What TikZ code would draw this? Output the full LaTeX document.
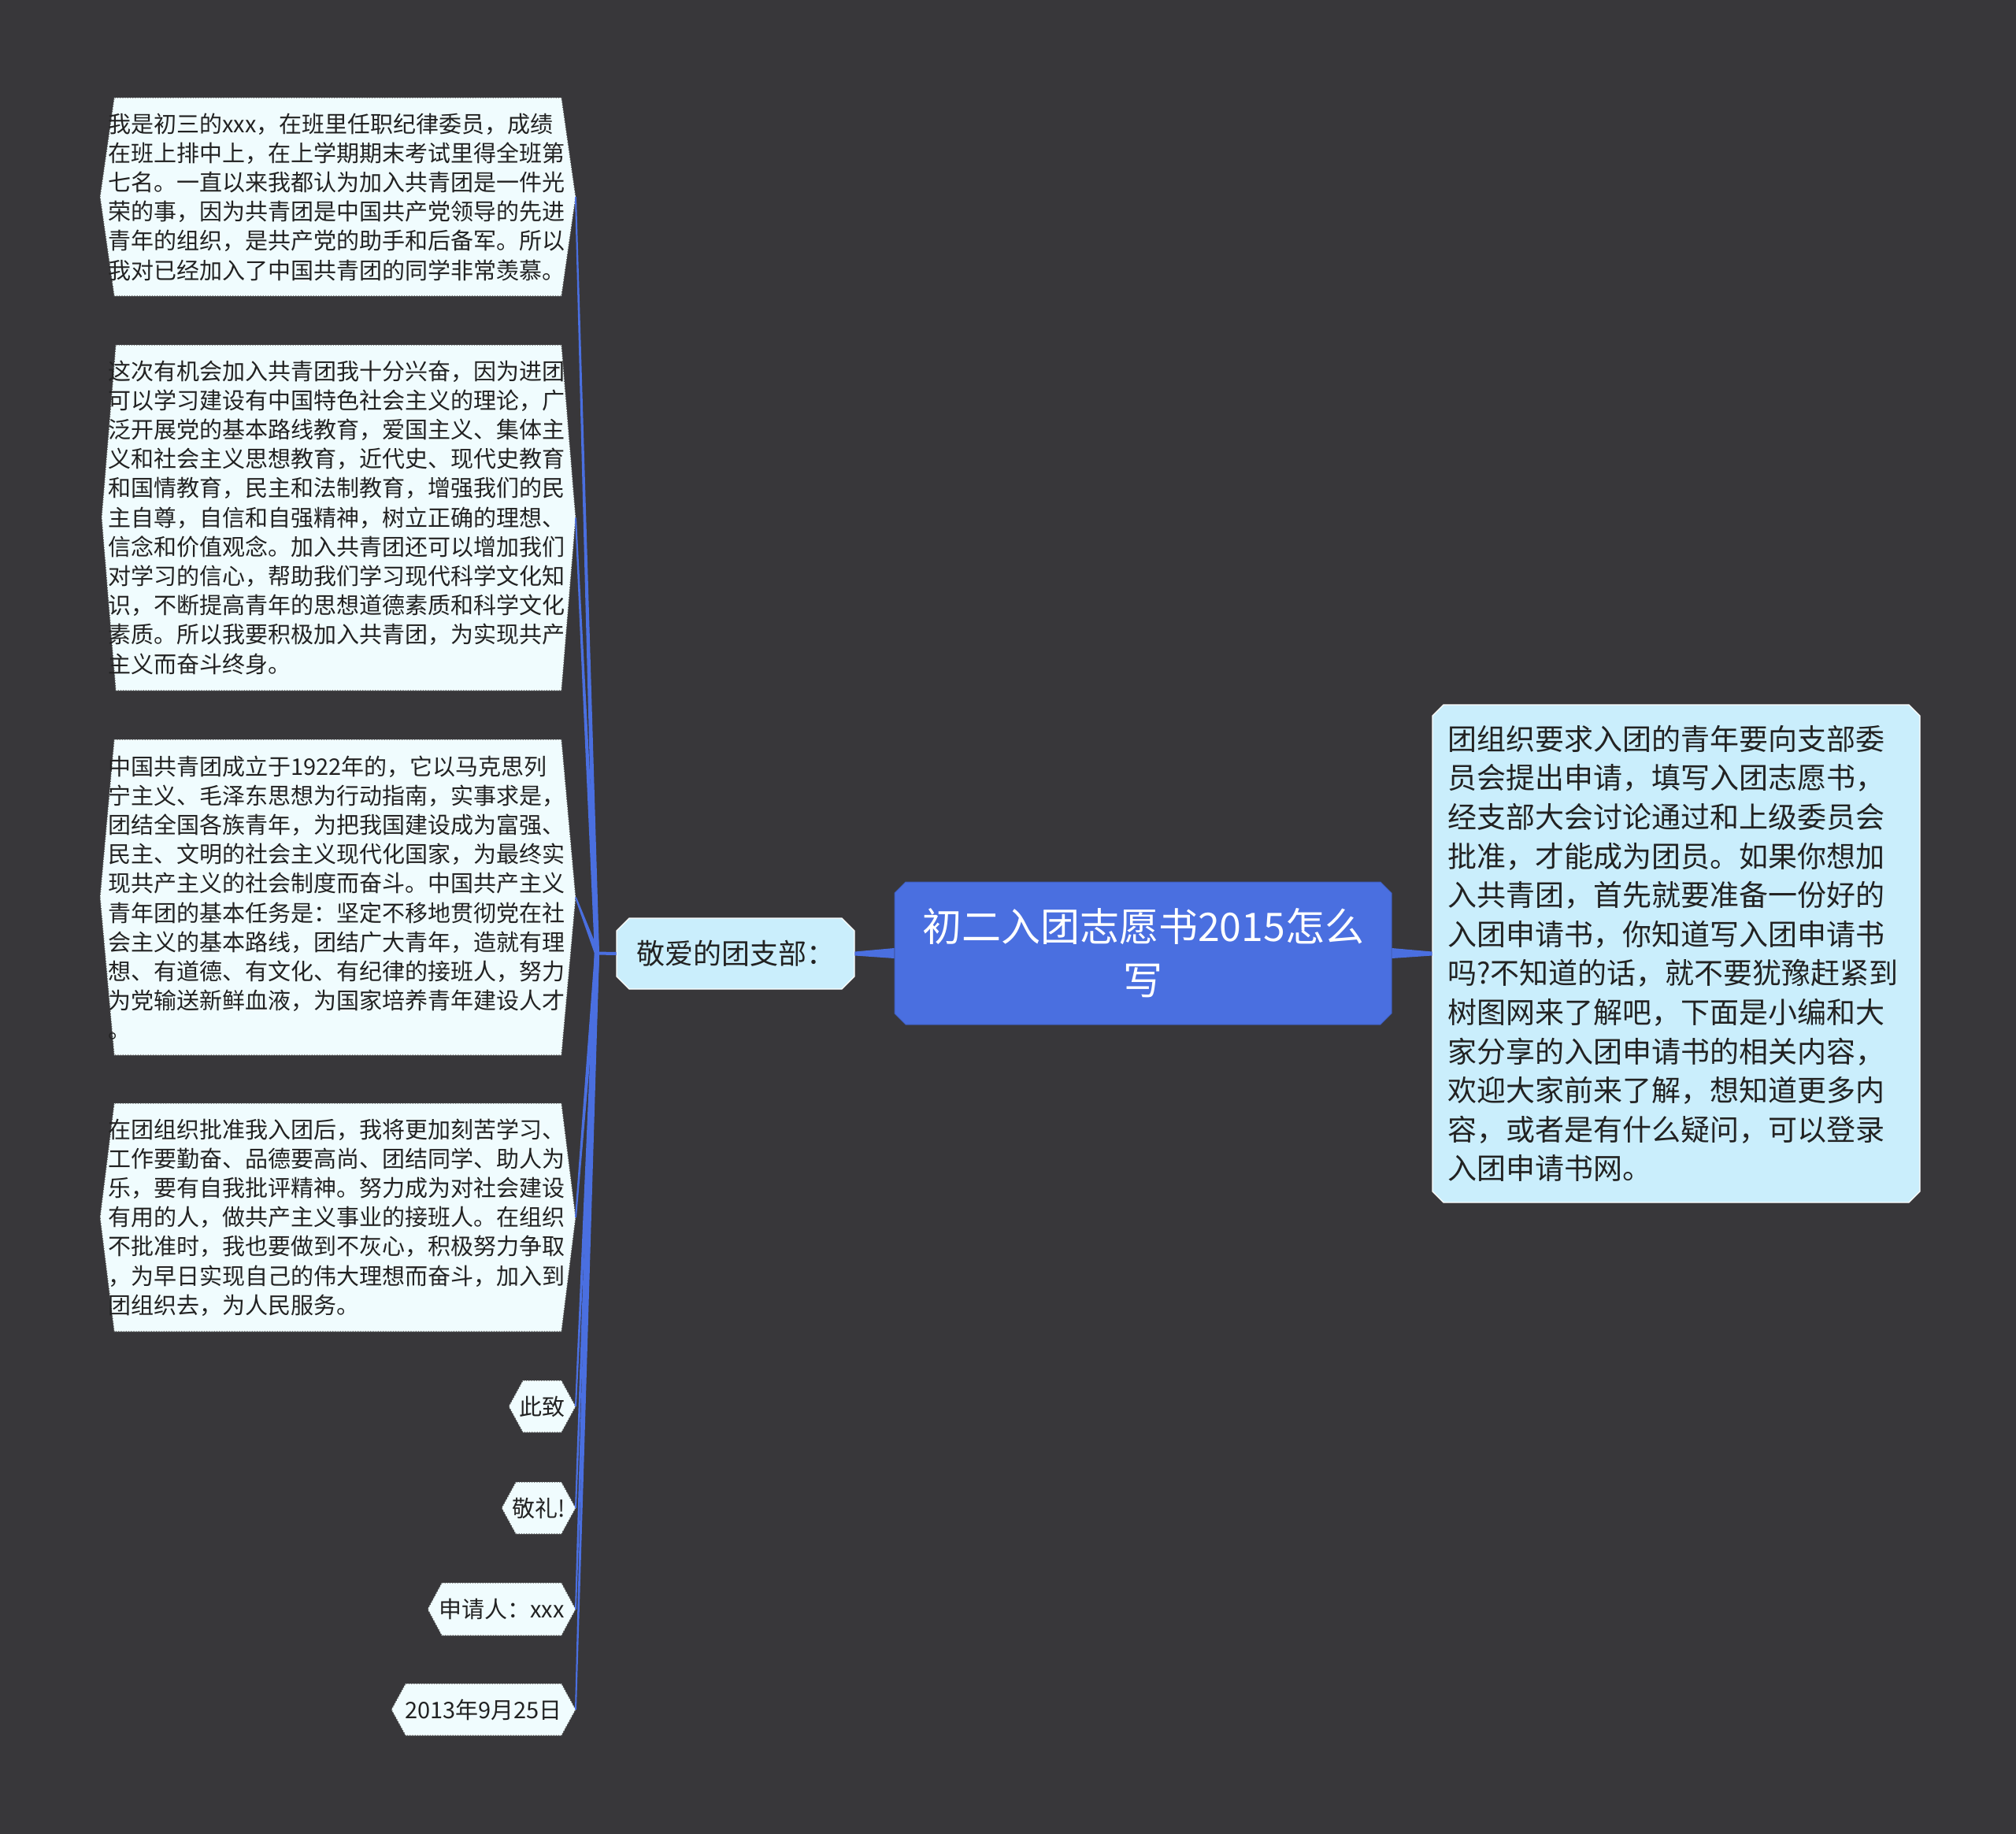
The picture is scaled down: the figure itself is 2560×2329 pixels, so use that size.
\documentclass[tikz,border=0pt]{standalone}
\usepackage{fontspec}
\newfontfamily\cjk{Noto Sans CJK SC}
\usetikzlibrary{calc}
\definecolor{bg}{HTML}{38373A}
\definecolor{mainblue}{HTML}{4A6FE0}
\definecolor{lightblue}{HTML}{CAEEFC}
\definecolor{leaffill}{HTML}{F0FCFE}
\definecolor{txt}{HTML}{222222}
\newcommand\leafhex[5]{% name, xl, xr, yt, yb
  \draw[leafshape] (#2,{(#4+#5)/2}) -- ({#2+18},#4) -- ({#3-18},#4) -- (#3,{(#4+#5)/2}) -- ({#3-18},#5) -- ({#2+18},#5) -- cycle;
  \coordinate (#1) at (#3,{(#4+#5)/2});
}
\newcommand\octshape[6]{% style, xl, xr, yt, yb, chamfer(px)
  \draw[#1] ({#2+#6},#4) -- ({#3-#6},#4) -- (#3,{#4+#6}) -- (#3,{#5-#6}) -- ({#3-#6},#5) -- ({#2+#6},#5) -- (#2,{#5-#6}) -- (#2,{#4+#6}) -- cycle;
}
\newcommand\taper[4]{%
  \fill[mainblue] ($(#1)!#3!90:(#2)$) -- ($(#2)!#4!-90:(#1)$) -- ($(#2)!#4!90:(#1)$) -- ($(#1)!#3!-90:(#2)$) -- cycle;
}
\begin{document}
\begin{tikzpicture}[x=0.5pt,y=-0.5pt,
  leafshape/.style={fill=leaffill, draw=black!70, densely dotted, line width=0.6pt},
  leaftext/.style={font=\cjk\fontsize{14.5}{18.6}\selectfont, text=txt, align=left, inner sep=0pt, anchor=west},
  smalltext/.style={font=\cjk\fontsize{14.5}{18.6}\selectfont, text=txt, inner sep=0pt},
  mainshape/.style={fill=mainblue, draw=mainblue!85!black, line width=0.5pt},
  subshape/.style={fill=lightblue, draw=white, line width=0.6pt},
  maintext/.style={inner sep=0pt, text=white, align=center, font=\cjk\fontsize{25}{34}\selectfont},
  subtext/.style={inner sep=0pt, text=txt, font=\cjk\fontsize{18}{24}\selectfont},
  righttext/.style={font=\cjk\fontsize{18.5}{24.8}\selectfont, text=txt, align=left, inner sep=0pt, anchor=west}
]
\useasboundingbox (0,0) rectangle (2560,2329);
\fill[bg] (0,0) rectangle (2560,2329);

% main nodes
\octshape{mainshape}{1136}{1767}{1120}{1301}{14}
\node[maintext, minimum width=315.5pt, minimum height=90.5pt] (main) at (1451.5,1210.5) {初二入团志愿书2015怎么\\写};
\octshape{subshape}{783}{1085}{1166}{1256}{16}
\node[subtext, minimum width=151pt, minimum height=45pt] (sub) at (934,1211) {敬爱的团支部：};
\octshape{subshape}{1819}{2438}{895}{1527}{14}
\node[inner sep=0pt, minimum width=309.5pt, minimum height=316pt] (right) at (2128.5,1211) {};
\node[righttext] (righttxt) at (1838,1211) {团组织要求入团的青年要向支部委\\员会提出申请，填写入团志愿书，\\经支部大会讨论通过和上级委员会\\批准，才能成为团员。如果你想加\\入共青团，首先就要准备一份好的\\入团申请书，你知道写入团申请书\\吗?不知道的话，就不要犹豫赶紧到\\树图网来了解吧，下面是小编和大\\家分享的入团申请书的相关内容，\\欢迎大家前来了解，想知道更多内\\容，或者是有什么疑问，可以登录\\入团申请书网。};

% leaves
\leafhex{l1}{127}{731}{124}{376}
\leafhex{l2}{129}{731}{438}{877}
\leafhex{l3}{127}{731}{939}{1340}
\leafhex{l4}{127}{731}{1401}{1691}
\leafhex{l5}{646}{731}{1753}{1819}
\leafhex{l6}{637}{731}{1882}{1948}
\leafhex{l7}{543}{731}{2010}{2077}
\leafhex{l8}{497}{731}{2138}{2204}

\node[leaftext] (t1) at (137,250) {我是初三的xxx，在班里任职纪律委员，成绩\\在班上排中上，在上学期期末考试里得全班第\\七名。一直以来我都认为加入共青团是一件光\\荣的事，因为共青团是中国共产党领导的先进\\青年的组织，是共产党的助手和后备军。所以\\我对已经加入了中国共青团的同学非常羡慕。};
\node[leaftext] (t2) at (137,657) {这次有机会加入共青团我十分兴奋，因为进团\\可以学习建设有中国特色社会主义的理论，广\\泛开展党的基本路线教育，爱国主义、集体主\\义和社会主义思想教育，近代史、现代史教育\\和国情教育，民主和法制教育，增强我们的民\\主自尊，自信和自强精神，树立正确的理想、\\信念和价值观念。加入共青团还可以增加我们\\对学习的信心，帮助我们学习现代科学文化知\\识，不断提高青年的思想道德素质和科学文化\\素质。所以我要积极加入共青团，为实现共产\\主义而奋斗终身。};
\node[leaftext] (t3) at (137,1140) {中国共青团成立于1922年的，它以马克思列\\宁主义、毛泽东思想为行动指南，实事求是，\\团结全国各族青年，为把我国建设成为富强、\\民主、文明的社会主义现代化国家，为最终实\\现共产主义的社会制度而奋斗。中国共产主义\\青年团的基本任务是：坚定不移地贯彻党在社\\会主义的基本路线，团结广大青年，造就有理\\想、有道德、有文化、有纪律的接班人，努力\\为党输送新鲜血液，为国家培养青年建设人才\\。};
\node[leaftext] (t4) at (137,1546) {在团组织批准我入团后，我将更加刻苦学习、\\工作要勤奋、品德要高尚、团结同学、助人为\\乐，要有自我批评精神。努力成为对社会建设\\有用的人，做共产主义事业的接班人。在组织\\不批准时，我也要做到不灰心，积极努力争取\\，为早日实现自己的伟大理想而奋斗，加入到\\团组织去，为人民服务。};
\node[smalltext] (t5) at (688.5,1786) {此致};
\node[smalltext] (t6) at (684,1915) {敬礼!};
\node[smalltext] (t7) at (637,2043.5) {申请人：xxx};
\node[smalltext] (t8) at (614,2171) {2013年9月25日};

% connectors
\coordinate (root) at (758,1210.5);
\taper{main.west}{sub.east}{3.25pt}{1.25pt}
\taper{main.east}{right.west}{3.25pt}{1.25pt}
\draw[mainblue, line width=2pt] (sub.west) -- (root);
\foreach \n in {l1,l2,l3,l4,l5,l6,l7,l8}{
  \taper{root}{\n}{1.5pt}{0.5pt}
}
\end{tikzpicture}
\end{document}
